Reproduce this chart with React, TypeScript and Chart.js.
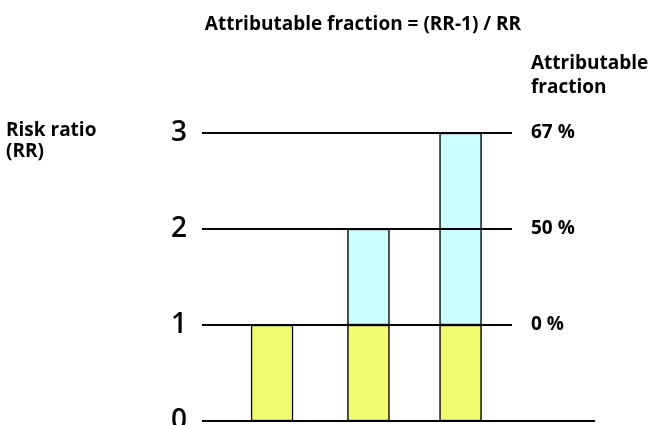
import { useEffect, useRef } from 'react';
import { Chart, registerables } from 'chart.js';

Chart.register(...registerables);

// Data
const barPositions = [2.26, 5.37, 8.34];
const baseValues = [1, 1, 1];
const excessRanges: [number, number][] = [[1, 2], [1, 3]];
const excessPositions = [5.37, 8.34];
const riskTicks = [0, 1, 2, 3];
const fractionLabels = ['', '0 %', '50 %', '67 %'];
const refLevels = [1, 2, 3];
const refLineEnd = 10;
const baseLineEnd = 12.68;

const titleText = 'Attributable fraction = (RR-1) / RR';
const leftLabel = ['Risk ratio', '(RR)'];
const rightLabel = ['Attributable', 'fraction'];

const BOLD = 'bold 19px "Open Sans", sans-serif';

const textPlugin = {
  id: 'textPlugin',
  afterDraw(chart: any) {
    const ctx = chart.ctx;
    ctx.save();
    ctx.fillStyle = '#000';
    ctx.font = BOLD;
    ctx.textBaseline = 'alphabetic';
    ctx.textAlign = 'center';
    ctx.fillText(titleText, 363, 30);
    ctx.textAlign = 'left';
    ctx.fillText(leftLabel[0], 6, 136);
    ctx.fillText(leftLabel[1], 6, 157);
    ctx.fillText(rightLabel[0], 531, 69);
    ctx.fillText(rightLabel[1], 531, 93);
    ctx.restore();
  },
};

export default function App() {
  const ref = useRef<HTMLCanvasElement | null>(null);

  useEffect(() => {
    document.body.style.margin = '0';
    if (!ref.current) return;
    const lineDatasets: any[] = refLevels.map((lv) => ({
      type: 'line',
      data: [
        { x: 0, y: lv },
        { x: refLineEnd, y: lv },
      ],
      borderColor: '#000',
      borderWidth: 2,
      pointRadius: 0,
      clip: false,
      order: 0,
      yAxisID: 'y',
    }));
    lineDatasets.push({
      type: 'line',
      data: [
        { x: 0, y: 0 },
        { x: baseLineEnd, y: 0 },
      ],
      borderColor: '#000',
      borderWidth: 2,
      pointRadius: 0,
      clip: false,
      order: 0,
      yAxisID: 'y',
    });

    const chart = new Chart(ref.current, {
      type: 'bar',
      data: {
        datasets: [
          ...lineDatasets,
          {
            type: 'bar',
            data: barPositions.map((x, i) => ({ x, y: baseValues[i] })),
            backgroundColor: '#f2fc70',
            borderColor: '#000',
            borderWidth: 1.5,
            borderSkipped: false,
            barThickness: 42,
            grouped: false,
            order: 1,
            yAxisID: 'y',
          },
          {
            type: 'bar',
            data: excessPositions.map((x, i) => ({ x, y: excessRanges[i] })),
            backgroundColor: '#ccffff',
            borderColor: '#000',
            borderWidth: 1.5,
            borderSkipped: false,
            barThickness: 42,
            grouped: false,
            order: 1,
            yAxisID: 'y',
          },
        ] as any,
      },
      options: {
        animation: false,
        responsive: true,
        maintainAspectRatio: false,
        layout: { padding: { top: 133, bottom: 4, left: 0, right: 0 } },
        plugins: {
          legend: { display: false },
          tooltip: { enabled: false },
          title: { display: false },
        },
        scales: {
          x: {
            type: 'linear',
            min: 0,
            max: 10,
            offset: false,
            display: false,
          },
          y: {
            type: 'linear',
            position: 'left',
            min: 0,
            max: 3,
            grid: { display: false, drawTicks: false },
            border: { display: false },
            afterBuildTicks: (s: any) => {
              s.ticks = riskTicks.map((v) => ({ value: v }));
            },
            ticks: {
              padding: 15,
              color: '#000',
              font: { family: '"Open Sans", sans-serif', size: 28, weight: '600', lineHeight: 1 },
              callback: (v: any) => String(v),
            },
            afterFit: (s: any) => {
              s.width = 202;
              s.paddingTop = 0;
              s.paddingBottom = 0;
            },
          },
          y2: {
            type: 'linear',
            position: 'right',
            min: 0,
            max: 3,
            grid: { display: false, drawTicks: false },
            border: { display: false },
            afterBuildTicks: (s: any) => {
              s.ticks = riskTicks.map((v) => ({ value: v }));
            },
            ticks: {
              padding: 19,
              color: '#000',
              font: { family: '"Open Sans", sans-serif', size: 19, weight: 'bold', lineHeight: 1 },
              callback: (v: any) => fractionLabels[Number(v)] ?? '',
            },
            afterFit: (s: any) => {
              s.width = 136;
              s.paddingTop = 0;
              s.paddingBottom = 0;
            },
          },
        },
      } as any,
      plugins: [textPlugin],
    });
    return () => chart.destroy();
  }, []);

  return (
    <div style={{ width: 648, height: 425, position: 'relative' }}>
      <canvas ref={ref} />
    </div>
  );
}
